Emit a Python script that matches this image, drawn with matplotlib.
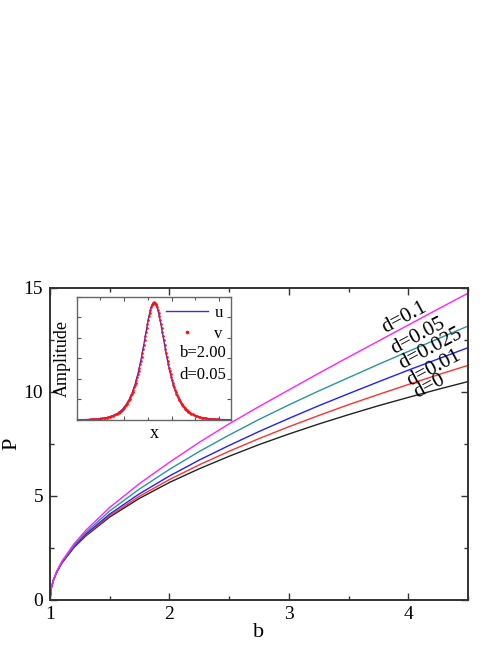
import numpy as np
import matplotlib
matplotlib.use("Agg")
import matplotlib.pyplot as plt
from matplotlib.ticker import MultipleLocator, NullFormatter

plt.rcParams['font.family'] = ['Liberation Serif', 'DejaVu Serif']

# power P versus propagation constant b, for several d
b_vals = [1.0, 1.01, 1.03, 1.06, 1.1, 1.2, 1.3, 1.5, 1.75, 2.0, 2.25, 2.5,
          2.75, 3.0, 3.25, 3.5, 3.75, 4.0, 4.25, 4.5]
P_d0 = [0, 0.56, 0.97, 1.38, 1.78, 2.52, 3.08, 3.99, 4.89, 5.65, 6.31, 6.91,
        7.47, 7.98, 8.46, 8.91, 9.34, 9.74, 10.13, 10.50]
P_d001 = [0, 0.56, 0.98, 1.38, 1.79, 2.54, 3.12, 4.05, 4.99, 5.79, 6.50, 7.15,
          7.76, 8.33, 8.87, 9.39, 9.88, 10.36, 10.83, 11.28]
P_d0025 = [0, 0.56, 0.98, 1.39, 1.80, 2.57, 3.17, 4.13, 5.11, 5.96, 6.73, 7.43,
           8.10, 8.73, 9.34, 9.92, 10.49, 11.05, 11.59, 12.13]
P_d005 = [0, 0.57, 0.98, 1.40, 1.83, 2.62, 3.25, 4.28, 5.34, 6.28, 7.14, 7.93,
          8.68, 9.38, 10.05, 10.69, 11.33, 11.95, 12.56, 13.17]
P_d01 = [0, 0.57, 0.99, 1.43, 1.87, 2.69, 3.35, 4.45, 5.60, 6.62, 7.58, 8.47,
         9.30, 10.10, 10.90, 11.68, 12.45, 13.22, 13.99, 14.75]

curve_labels = ['d=0', 'd=0.01', 'd=0.025', 'd=0.05', 'd=0.1']
curve_colors = ['#222222', '#ff3030', '#2020ff', '#2a9595', '#ff20ff']
label_b = [4.175, 4.217, 4.19, 4.083, 3.967]
label_P = [10.29, 11.15, 12.07, 12.69, 13.56]

# inset: soliton half-profile (distance from peak, amplitude), b=2.00 d=0.05
peak_x = 26.1
offsets = np.r_[np.arange(0, 12.25, 0.25), np.arange(12.5, 33.0, 0.5)]
amp_half = [1.4300, 1.4262, 1.4151, 1.3968, 1.3718, 1.3409, 1.3047, 1.2637,
            1.2195, 1.1716, 1.1220, 1.0710, 1.0193, 0.9675, 0.9161, 0.8656,
            0.8163, 0.7685, 0.7224, 0.6782, 0.6359, 0.5956, 0.5574, 0.5212,
            0.4870, 0.4548, 0.4244, 0.3960, 0.3692, 0.3442, 0.3208, 0.2989,
            0.2784, 0.2592, 0.2414, 0.2247, 0.2092, 0.1947, 0.1812, 0.1686,
            0.1569, 0.1460, 0.1358, 0.1264, 0.1176, 0.1094, 0.1017, 0.0946,
            0.0880,
            0.0761, 0.0659, 0.0570, 0.0493, 0.0427, 0.0369, 0.0319, 0.0276,
            0.0239, 0.0207, 0.0179, 0.0155, 0.0134, 0.0116, 0.0100, 0.0087,
            0.0075, 0.0065, 0.0056, 0.0048, 0.0042, 0.0036, 0.0031, 0.0027,
            0.0023, 0.0020, 0.0017, 0.0015, 0.0013, 0.0011, 0.0010, 0.0009,
            0.0007, 0.0006, 0.0005, 0.0005, 0.0004, 0.0004, 0.0003, 0.0003,
            0.0002]

fig = plt.figure(figsize=(4.98, 6.45), dpi=100)
ax = fig.add_axes([0.1004, 0.0698, 0.8394, 0.4837])

all_P = [P_d0, P_d001, P_d0025, P_d005, P_d01]
for P, col in zip(all_P, curve_colors):
    ax.plot(b_vals, P, color=col, lw=1.0)

for lab, bx, py in zip(curve_labels, label_b, label_P):
    ax.text(bx, py, lab, fontsize=15, rotation=28, ha='center', va='center',
            rotation_mode='anchor')

ax.set_xlim(1, 4.5)
ax.set_ylim(0, 15)
ax.xaxis.set_major_locator(MultipleLocator(1))
ax.xaxis.set_minor_locator(MultipleLocator(0.5))
ax.yaxis.set_major_locator(MultipleLocator(5))
ax.yaxis.set_minor_locator(MultipleLocator(2.5))
ax.tick_params(which='both', direction='in', top=True, right=True,
               color='#333333', labelsize=14)
ax.tick_params(which='major', length=5, width=1.0)
ax.tick_params(which='minor', length=3, width=1.0)
ax.tick_params(axis='x', pad=4)
ax.tick_params(axis='y', pad=5)
for sp in ax.spines.values():
    sp.set_color('#333333')
    sp.set_linewidth(1.4)
ax.set_xlabel('b', fontsize=16, labelpad=0)
ax.set_ylabel('P', fontsize=16)
ax.yaxis.set_label_coords(-0.068, 0.5)

# inset
axi = fig.add_axes([0.154, 0.349, 0.310, 0.191])
xs = np.r_[peak_x - offsets[::-1][:-1], peak_x + offsets]
amp = np.r_[np.array(amp_half)[::-1][:-1], np.array(amp_half)]
axi.plot(xs, amp, color='#3030ff', lw=1.0, label='u')
axi.plot(xs, amp, ls='none', marker='o', ms=1.9, mec='none', color='#ff1010',
         label='v')
axi.set_xlim(0, 52.0)
axi.set_ylim(0, 1.5)
axi.xaxis.set_major_locator(MultipleLocator(16))
axi.xaxis.set_minor_locator(MultipleLocator(8))
axi.yaxis.set_major_locator(MultipleLocator(0.25))
axi.xaxis.set_major_formatter(NullFormatter())
axi.yaxis.set_major_formatter(NullFormatter())
axi.tick_params(which='both', direction='in', top=True, right=True,
                color='#555555')
axi.tick_params(which='major', length=3, width=0.8)
axi.tick_params(which='minor', length=2, width=0.8)
for sp in axi.spines.values():
    sp.set_color('#666666')
    sp.set_linewidth(1.0)
axi.set_xlabel('x', fontsize=13, labelpad=0)
axi.set_ylabel('Amplitude', fontsize=13, labelpad=1)
axi.legend(loc='upper right', frameon=False, fontsize=12, handlelength=2.5,
           handletextpad=0.4, labelspacing=0.3, borderaxespad=0.2,
           borderpad=0.3, markerscale=1.4)
axi.text(0.97, 0.545, 'b=2.00', transform=axi.transAxes, fontsize=12,
         ha='right', va='center')
axi.text(0.97, 0.366, 'd=0.05', transform=axi.transAxes, fontsize=12,
         ha='right', va='center')

fig.savefig('out.png', dpi=100)
